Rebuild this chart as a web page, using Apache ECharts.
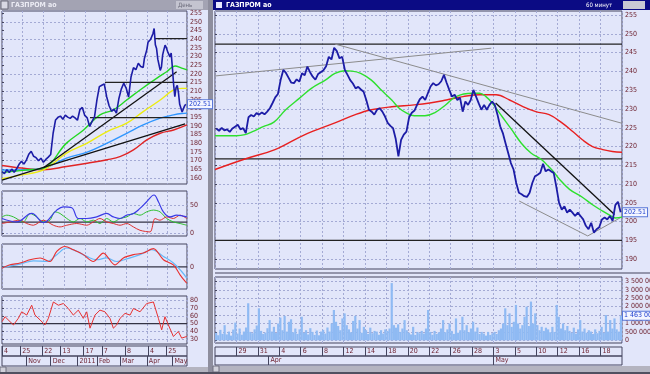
<!DOCTYPE html>
<html><head><meta charset="utf-8">
<script src="https://cdn.jsdelivr.net/npm/echarts@6/dist/echarts.min.js"></script>
<style>html,body{margin:0;padding:0;background:#e2e6fa;}#c{width:650px;height:374px;}</style>
</head><body><div id="c"></div>
<script>
// ===== axis labels / ticks =====
const leftDayTicks = [0,15,33,48,67,82,101,120,135];
const leftDayLabels = ['4','25','22','13','17','7','8','4','25'];
const leftMonthTicks = [20,40,62,78,97,119,140];
const leftMonthLabels = ['Nov','Dec','2011','Feb','Mar','Apr','May'];
const rightDayTicks = [2,4,6,8,10,12,14,16,18,20,22,24,26,28,30,32,34,36];
const rightDayLabels = ['29','31','4','6','8','12','14','18','20','22','26','28','3','5','10','12','16','18'];
const rightMonthTicks = [5,26];
const rightMonthLabels = ['Apr','May'];
const leftPriceTicks = [160,165,170,175,180,185,190,195,200,205,210,215,220,225,230,235,240,245,250,255];
const leftPriceGridTicks = [160,170,180,190,200,210,220,230,240,250];
const rightPriceTicks = [190,195,200,205,210,215,220,225,230,235,240,245,250,255];
const volumeTicks = [0,500000,1000000,1500000,2000000,2500000,3000000,3500000];
const adxTicks = [0,50];
const macdTicks = [0];
const rsiTicks = [30,40,50,60,70,80];

// ===== left (daily) window data: [trading-day index, value] =====
const leftPrice = [[0,163.5],[2,162.4],[4,164.6],[6,163.0],[8,165.0],[10,163.2],[12,165.2],[14,167.8],[16,169.6],[18,167.9],[20,170.2],[22,173.6],[24,175.3],[26,172.4],[28,171.6],[30,169.8],[32,171.3],[34,168.9],[36,170.6],[38,171.9],[40,173.4],[42,185.7],[44,193.4],[46,194.9],[48,195.6],[50,193.8],[52,196.2],[54,195.0],[56,194.3],[58,195.6],[60,194.6],[62,193.2],[64,199.3],[66,200.6],[68,196.0],[70,194.6],[72,189.6],[74,192.6],[76,195.2],[78,205.0],[80,212.6],[82,213.4],[84,214.2],[86,206.8],[88,201.6],[90,198.4],[92,199.6],[94,197.3],[96,205.6],[98,211.2],[100,214.6],[102,211.8],[104,206.6],[106,218.2],[108,223.6],[110,222.4],[112,226.1],[113,225.5],[114,224.3],[115,225.0],[116,223.7],[117,228.9],[118,229.3],[119,234.0],[120,238.3],[121,237.3],[122,239.8],[123,239.8],[124,243.2],[125,246.2],[126,236.8],[127,234.6],[128,228.5],[129,228.0],[130,222.0],[131,224.0],[132,231.0],[133,234.0],[134,236.6],[135,235.1],[136,233.0],[137,232.4],[138,229.8],[139,232.0],[140,223.6],[141,213.9],[142,206.8],[143,212.1],[144,213.4],[145,209.0],[146,202.4],[147,202.4],[148,198.0],[149,198.5],[150,201.5],[151,202.5]];
const leftGreen = [[0,163],[10,163.8],[20,164.5],[34,165.6],[53,180],[67,187.6],[80.5,196.3],[91.5,199.2],[102.5,204.9],[113.4,210.7],[127,217.4],[135.3,221.2],[142.2,224.5],[147.6,223.3],[152,222.3]];
const leftYellow = [[0,159.5],[15,161.5],[34,164.5],[53,174.2],[70,180],[86.4,186.7],[102.5,191.5],[116,198.2],[130,204.9],[141,210.7],[147.6,211.6],[152,211.6]];
const leftCyan = [[0,164.5],[20,164.6],[34,165.5],[53,171.3],[70,174.8],[86.4,180],[102.5,185.7],[116,190.5],[130,194.4],[141,196.3],[147.6,197.1],[152,197.3]];
const leftRed = [[0,167.1],[16,165.6],[34,164.6],[53,166.5],[70,168.4],[86.4,170.4],[97.4,172.3],[108,176.1],[119,181.9],[130,185.7],[141,187.6],[152,190.5]];
const leftTrendSteep = [[34,165.8],[143.5,221.2]];
const leftTrendFlat = [[0,158.6],[150.4,191.1]];
const leftLevels = [[125.7,240.4],[84.6,215.1],[72.3,194.7]]; // [start day, level]
const lastPrice = 202.51;

const adxLine = [[0,26.5],[12.1,20.5],[24.4,35.3],[34,19.4],[45,41.2],[50.4,47],[57.3,45.3],[62.7,26.5],[69.6,26.5],[77.8,29.3],[86,35.3],[91.5,29.3],[97,26.5],[102.5,32.3],[108,35.3],[113.4,44.2],[118.9,55.8],[124.9,67.7],[128.5,55.8],[132.6,38.2],[138,29.3],[143.5,32.3],[151.8,29.3]];
const diPlus = [[0,29.3],[3.9,32.3],[9.4,29.3],[17.5,20.5],[23,35.3],[28.5,29.3],[34,20.5],[39.4,23.5],[43.5,38.2],[47.7,35.3],[53.2,26.5],[58.6,20.5],[64.1,26.5],[69.6,20.5],[75,23.5],[80.5,17.7],[86,26.5],[91.5,20.5],[97,26.5],[102.5,29.3],[108,35.3],[113.4,32.3],[118.9,38.2],[124.4,41.2],[129.8,38.2],[135.3,26.5],[140.8,20.5],[146.3,17.7],[151.8,14.7]];
const diMinus = [[0,17.7],[6.6,20.5],[14.8,23.5],[20.3,17.7],[25.8,14.7],[34,23.5],[42.2,14.7],[47.7,11.7],[53.2,14.7],[61.4,17.7],[69.6,14.7],[75,20.5],[80.5,26.5],[86,20.5],[91.5,17.7],[97,14.7],[102.5,17.7],[108,11.7],[113.4,5.8],[121.6,2.9],[125.7,26.5],[129.8,23.5],[135.3,29.3],[140.8,26.5],[146.3,32.3],[151.8,26.5]];
const adxLevel = 20;
const macdLine = [[0,-0.6],[6.6,0.9],[14.8,1.7],[23,3.2],[31.3,4.0],[39.4,2.4],[45,7.0],[51.8,9.2],[58.6,7.7],[66.8,5.5],[75,2.4],[83.2,6.2],[92.8,0.9],[99.7,4.0],[108,5.5],[116,6.2],[124.4,8.2],[132.6,3.2],[140.8,0.9],[146.3,-3.6],[151.8,-7.4]];
const macdSignal = [[0,-0.3],[14.8,1.2],[25.8,2.7],[36.7,2.4],[45,5.5],[53.2,8.5],[61.4,7.0],[69.6,4.7],[77.8,3.2],[86,4.0],[94.2,2.4],[102.5,3.6],[113.4,5.5],[123,7.7],[132.6,4.7],[140.8,1.7],[147.6,-2.1],[151.8,-5.1]];
const rsiLine = [[0,52.4],[2.5,58.8],[6.6,52.4],[9.4,48.2],[13.4,56.7],[16.2,65.1],[20.3,60.9],[24.4,73.6],[27.1,60.9],[31.3,54.6],[35.3,48.2],[38.1,56.7],[42.2,77.8],[46.3,73.6],[50.4,75.8],[54.5,69.4],[58.6,60.9],[62.7,67.3],[66.8,56.7],[69.6,65.1],[72.3,44],[76.4,60.9],[80.5,67.3],[84.6,65.1],[88.7,56.7],[91.5,44],[94.2,48.2],[97,56.7],[101.1,63.1],[105.2,60.9],[108,69.4],[113.4,65.1],[118.9,75.8],[124.4,77.8],[128.5,56.7],[131.2,41.8],[133.9,58.8],[136.7,48.2],[140.8,33.3],[144.9,39.7],[147.6,31.2],[151.8,33.3]];
const rsiLevel = 50;

// ===== right (60 min) window data =====
// 4 readings per trading day, day 0 = 25 Mar
const rightPrice = [
224.8,224.2,225.0,224.3, 224.6,223.9,224.8,225.3, 225.8,224.6,224.9,223.6, 227.8,228.4,228.0,228.9,
228.5,229.1,228.6,229.3, 230.2,231.6,233.1,234.0, 237.7,240.4,239.6,238.3, 237.0,236.9,237.9,237.3,
239.5,239.0,241.3,239.8, 238.6,237.8,239.3,239.8, 240.3,241.4,243.9,243.2, 246.3,245.4,243.5,243.9,
240.4,239.1,237.7,236.8, 235.5,235.9,235.2,234.6, 232.4,229.8,229.3,228.5, 229.8,230.2,229.3,228.0,
226.3,225.5,224.9,222.0, 217.4,221.8,223.2,224.0, 227.8,229.0,229.6,231.2, 232.6,233.3,232.4,234.2,
236.0,236.9,236.3,236.6, 237.4,239.1,237.0,235.1, 233.3,233.8,232.4,233.0, 229.3,232.0,231.1,232.4,
235.1,233.3,231.5,229.8, 231.1,229.8,231.1,232.0, 231.1,228.5,225.4,223.6, 220.9,218.3,215.6,213.9,
210.3,207.7,207.3,206.8, 206.6,207.7,210.3,212.1, 212.5,213.0,215.4,213.4, 213.9,213.4,213.0,209.2,
205.0,203.2,204.1,202.4, 203.2,202.4,201.5,202.4, 201.5,200.6,198.9,198.0, 199.7,197.1,198.0,198.5,
200.6,201.1,200.6,201.5, 200.2,204.4,205.3,202.51];
const rightGreen = [[0,222.9],[1,222.9],[2,222.9],[2.8,223.2],[3.5,224],[4.5,225.3],[5.5,226.5],[6.6,229.8],[7.9,232.9],[9,235.5],[10.3,237.7],[11.2,239.5],[12.1,240.2],[12.8,240.1],[13.6,239.5],[14.6,237.7],[15.5,235.1],[16.5,232.4],[17.2,230.2],[17.9,228.9],[18.6,228.2],[19.6,228.2],[20.5,229.0],[21.5,231],[22.5,233.3],[24,234.2],[24.7,234.2],[25.3,233.3],[25.9,231.5],[26.8,228],[27.7,224.5],[28.6,220.9],[29.5,218.3],[30.5,216.5],[31.1,214.8],[31.7,213],[32.1,211.5],[33.1,208.6],[34.3,206.5],[35.25,204.5],[36.2,202.8],[37,201.5],[37.4,201],[38,201.2]];
const rightRed = [[0,213.9],[2.8,216.7],[5.6,219.2],[8.4,223.2],[11.2,226.3],[13.1,228.5],[14.6,229.8],[16.5,230.6],[18.6,231.1],[20.05,231.6],[21.6,232.4],[23.15,233.3],[24.7,233.8],[26.25,233.8],[27.5,232.4],[28.7,230.7],[29.95,229.3],[31.2,228.5],[32.4,226.3],[33.4,224.0],[34.3,221.8],[35.25,220.0],[36.2,219.2],[37.1,218.7],[38,218.5]];
const rightGrayUp = [[0,238.8],[25.8,246.2]];
const rightGrayDown = [[11.2,247.3],[38,226.2]];
const rightGrayChannel = [[28.4,205.5],[34.8,196.2],[38,201.3]];
const rightBlackDown = [[26.2,231.6],[37.3,201.9]];
const rightLevels = [247.3,216.7,195.0];
// volume, 5 readings per trading day (thousands of shares)
const rightVolume = [
450,300,620,380,900, 350,520,280,640,1050, 400,700,330,520,760, 2200,500,420,650,880,
1900,560,380,460,720, 1200,520,800,430,1000, 1350,600,1450,520,1100, 1250,480,700,380,650,
1400,450,600,350,720, 500,320,580,300,520, 620,400,760,520,1000, 1800,1100,850,600,1300,
1600,900,650,480,1150, 1450,700,1200,450,800, 600,380,750,420,560, 520,330,600,400,650,
560,700,3400,900,750, 950,500,700,1200,600, 450,350,800,320,500, 420,560,400,700,1800,
500,330,560,380,480, 700,1200,480,650,1000, 560,380,1300,450,600, 1400,600,900,480,700,
1100,520,760,380,500, 400,280,500,320,420, 500,380,600,700,1000, 1900,900,1600,800,1100,
2100,1000,700,900,1400, 2000,850,2300,1000,1600, 900,600,800,560,750, 650,480,800,500,2100,
1400,700,1000,600,850, 560,450,750,400,650, 1200,520,700,450,600, 520,380,650,420,560,
800,450,1500,520,1200, 700,1300,650,520,1463];

// ===== styling =====
const FONT = "'DejaVu Sans Condensed','DejaVu Sans',sans-serif";
const LBL = '#6b1d2b';
const FRAME = '#44445e';
const BG = '#e2e6fa';
const GRIDLINE = {show:true, lineStyle:{color:'#a4aad4', type:[2,2], width:1}};
const L_MAX = 152, R_MAX = 38;

const chart = echarts.init(document.getElementById('c'));

const grids = [
  {left:2, top:11, width:185, height:173},   //0 L price
  {left:2, top:191, width:185, height:45},   //1 L ADX
  {left:2, top:244, width:185, height:45},   //2 L MACD
  {left:2, top:296, width:185, height:48},   //3 L RSI
  {left:2, top:346, width:185, height:10},   //4 L dates
  {left:2, top:356, width:185, height:10},   //5 L months
  {left:215, top:11, width:407, height:258}, //6 R price
  {left:215, top:277, width:407, height:66}, //7 R volume
  {left:215, top:347, width:407, height:9},  //8 R dates
  {left:215, top:356, width:407, height:9}   //9 R months
].map(g => Object.assign({show:true, containLabel:false, outerBoundsMode:'none',
  backgroundColor:'transparent', borderColor:FRAME, borderWidth:1}, g));

function xMain(gi, max, interval){
  return {gridIndex:gi, type:'value', min:0, max:max, interval:interval,
    axisLine:{show:false}, axisTick:{show:false}, axisLabel:{show:false}, splitLine:GRIDLINE};
}
function xDates(gi, max, ticks, labels, len){
  const map = {}; ticks.forEach((t,i)=>{map[t]=labels[i];});
  return {gridIndex:gi, type:'value', min:0, max:max,
    axisLine:{show:false}, splitLine:{show:false},
    axisTick:{show:true, inside:true, length:len, customValues:ticks, lineStyle:{color:FRAME}},
    axisLabel:{show:true, inside:true, customValues:ticks, formatter:v=>(map[v]!==undefined?map[v]:''),
      align:'left', padding:[0,0,0,2], margin:1, fontSize:7, color:LBL, fontFamily:FONT}};
}
function yRight(gi, min, max, ticks, opts){
  opts = opts || {};
  return {gridIndex:gi, type:'value', position:'right', min:min, max:max,
    axisLine:{show:false},
    axisTick:{show:opts.noLabel?false:true, length:2, customValues:ticks, lineStyle:{color:FRAME}},
    axisLabel:{show:!opts.noLabel, customValues:ticks, fontSize:7, color:LBL, margin:3, fontFamily:FONT,
      formatter:opts.fmt||(v=>String(v))},
    splitLine: opts.split ? GRIDLINE : {show:false}};
}
function hid(gi){ return {gridIndex:gi, type:'value', show:false, min:0, max:1, splitLine:{show:false}}; }

const xAxes = [
  xMain(0,L_MAX,17), xMain(1,L_MAX,17), xMain(2,L_MAX,17), xMain(3,L_MAX,17),
  xDates(4,L_MAX,leftDayTicks,leftDayLabels,10), xDates(5,L_MAX,leftMonthTicks,leftMonthLabels,10),
  xMain(6,R_MAX,2), xMain(7,R_MAX,2),
  xDates(8,R_MAX,rightDayTicks,rightDayLabels,9), xDates(9,R_MAX,rightMonthTicks,rightMonthLabels,9)
];
const volFmt = v => String(v).replace(/\B(?=(\d{3})+(?!\d))/g,' ');
const yAxes = [
  yRight(0,156.4,256.3,leftPriceTicks,{}),
  yRight(1,-4.2,74.7,adxTicks,{split:true}),
  yRight(2,-10,10.3,macdTicks,{}),
  yRight(3,23.6,85.5,rsiTicks,{split:true}),
  hid(4), hid(5),
  yRight(6,187.4,256.1,rightPriceTicks,{split:true}),
  yRight(7,-160000,3760000,volumeTicks,{split:true, fmt:volFmt}),
  hid(8), hid(9),
  yRight(0,156.4,256.3,leftPriceGridTicks,{split:true, noLabel:true}) // 10: left price grid lines
];

function ln(xi, yi, data, color, width, extra){
  return Object.assign({type:'line', xAxisIndex:xi, yAxisIndex:yi, data:data, symbol:'none', silent:true,
    lineStyle:{color:color, width:width}, itemStyle:{color:color}, z:3}, extra||{});
}
// last-value tag shown on the right axis (a markLine with invisible line)
function lastLabel(value, text){
  return {silent:true, symbol:['none','none'], precision:2, data:[{yAxis:value}],
    lineStyle:{color:'rgba(0,0,0,0)', width:0, type:'solid'},
    label:{show:true, position:'end', formatter:text, color:'#1f3fcf', backgroundColor:'#f4f6ff',
      borderColor:'#5a78d8', borderWidth:1, padding:[1,1,0,1], fontSize:7, distance:1, fontFamily:FONT}};
}

const series = [];
// ---- left price panel
series.push(ln(0,0,leftRed,'#e02424',1.4,{smooth:0.4}));
series.push(ln(0,0,leftCyan,'#2f96ff',1.4,{smooth:0.4}));
series.push(ln(0,0,leftYellow,'#ecec10',1.4,{smooth:0.4}));
series.push(ln(0,0,leftGreen,'#22d822',1.4,{smooth:0.4}));
series.push(ln(0,0,leftTrendSteep,'#111111',1.3));
series.push(ln(0,0,leftTrendFlat,'#111111',1.3));
leftLevels.forEach(l => series.push(ln(0,0,[[l[0],l[1]],[L_MAX,l[1]]],'#222222',1.2)));
series.push(ln(0,0,leftPrice,'#1c1ca6',1.6,{z:5, clip:false, markLine:lastLabel(lastPrice,'202.51')}));
// ---- ADX
series.push(ln(1,1,[[0,adxLevel],[L_MAX,adxLevel]],'#333344',1.2));
series.push(ln(1,1,diPlus,'#30c030',1,{smooth:0.3}));
series.push(ln(1,1,diMinus,'#e03030',1,{smooth:0.3}));
series.push(ln(1,1,adxLine,'#3a3ae6',1.2,{smooth:0.4}));
// ---- MACD
series.push(ln(2,2,[[0,0],[L_MAX,0]],'#333344',1.2));
series.push(ln(2,2,macdSignal,'#66b8f8',1.2,{smooth:0.4}));
series.push(ln(2,2,macdLine,'#e83030',1.1,{smooth:0.3}));
// ---- RSI
series.push(ln(3,3,[[0,rsiLevel],[L_MAX,rsiLevel]],'#333344',1.2));
series.push(ln(3,3,rsiLine,'#e83030',1));
// ---- date rows need a series per grid (empty)
series.push(ln(4,4,[],'#000',1)); series.push(ln(5,5,[],'#000',1));
series.push(ln(8,8,[],'#000',1)); series.push(ln(9,9,[],'#000',1));
// ---- right price panel
rightLevels.forEach(v => series.push(ln(6,6,[[0,v],[R_MAX,v]],'#222222',1.2)));
series.push(ln(6,6,rightGrayUp,'#8c8c8c',1));
series.push(ln(6,6,rightGrayDown,'#8c8c8c',1));
series.push(ln(6,6,rightGrayChannel,'#8c8c8c',1));
series.push(ln(6,6,rightRed,'#e82020',1.4,{smooth:0.4}));
series.push(ln(6,6,rightGreen,'#2ee02e',1.4,{smooth:0.4}));
series.push(ln(6,6,rightBlackDown,'#111111',1.3));
series.push(ln(6,6,rightPrice.map((v,i)=>[i/4+0.125,v]),'#1c1ca6',1.8,{z:5, clip:false, markLine:lastLabel(lastPrice,'202.51')}));
// ---- volume
const lastVolume = rightVolume[rightVolume.length-1]*1000;
series.push({type:'bar', xAxisIndex:7, yAxisIndex:7, silent:true, barWidth:2.2, z:3, clip:false,
  itemStyle:{color:'#8fbaf3'}, data:rightVolume.map((v,i)=>[i/5+0.1, v*1000]),
  markLine:lastLabel(lastVolume, volFmt(lastVolume))});

const T = (x,y,text,fill,extra)=>Object.assign({type:'text', x:x, y:y, style:Object.assign({text:text, fill:fill, font:"bold 7px 'DejaVu Sans Condensed','DejaVu Sans',sans-serif", textVerticalAlign:'middle'}, extra||{})});
const graphics = [
  // left window title bar (inactive)
  {type:'rect', shape:{x:0,y:0,width:208,height:10}, style:{fill:'#a3a3b3'}},
  {type:'rect', shape:{x:1,y:1,width:7,height:8}, style:{fill:'#d8d8e4', stroke:'#6a6a7a'}},
  T(11,5,'ГАЗПРОМ ао','#ececf4'),
  {type:'rect', shape:{x:176,y:1,width:27,height:8}, style:{fill:'#c4c4d0'}},
  T(178,5,'День','#6a6a7a',{font:"6px 'DejaVu Sans Condensed',sans-serif"}),
  // separator between windows
  {type:'rect', shape:{x:208,y:0,width:5,height:374}, style:{fill:'#8e8e9e'}},
  // right window title bar (active)
  {type:'rect', shape:{x:213,y:0,width:437,height:10}, style:{fill:'#0b0b84'}},
  {type:'rect', shape:{x:216,y:2,width:6,height:6}, style:{fill:'#e8e8ff'}},
  T(226,5,'ГАЗПРОМ ао','#ffffff'),
  T(586,5,'60 минут','#ffffff',{font:"6px 'DejaVu Sans Condensed',sans-serif"}),
  {type:'rect', shape:{x:623,y:1,width:22,height:8}, style:{fill:'#c8c8d4'}},
  // separator lines between right price and volume
  {type:'line', shape:{x1:215,y1:273,x2:650,y2:273}, style:{stroke:FRAME, lineWidth:1}},
  // scrollbars
  {type:'rect', shape:{x:0,y:367,width:208,height:7}, style:{fill:'#b4b4c0'}},
  {type:'rect', shape:{x:0,y:367,width:6,height:6}, style:{fill:'#d0d0da', stroke:'#707080'}},
  {type:'rect', shape:{x:213,y:366,width:437,height:8}, style:{fill:'#b4b4c0'}},
  {type:'rect', shape:{x:213,y:366,width:6,height:6}, style:{fill:'#d0d0da', stroke:'#707080'}},
  {type:'line', shape:{x1:0,y1:373,x2:650,y2:373}, style:{stroke:'#505060', lineWidth:2}}
];

chart.setOption({
  animation:false,
  backgroundColor:BG,
  textStyle:{fontFamily:FONT},
  grid:grids, xAxis:xAxes, yAxis:yAxes, series:series, graphic:graphics
});
</script></body></html>
